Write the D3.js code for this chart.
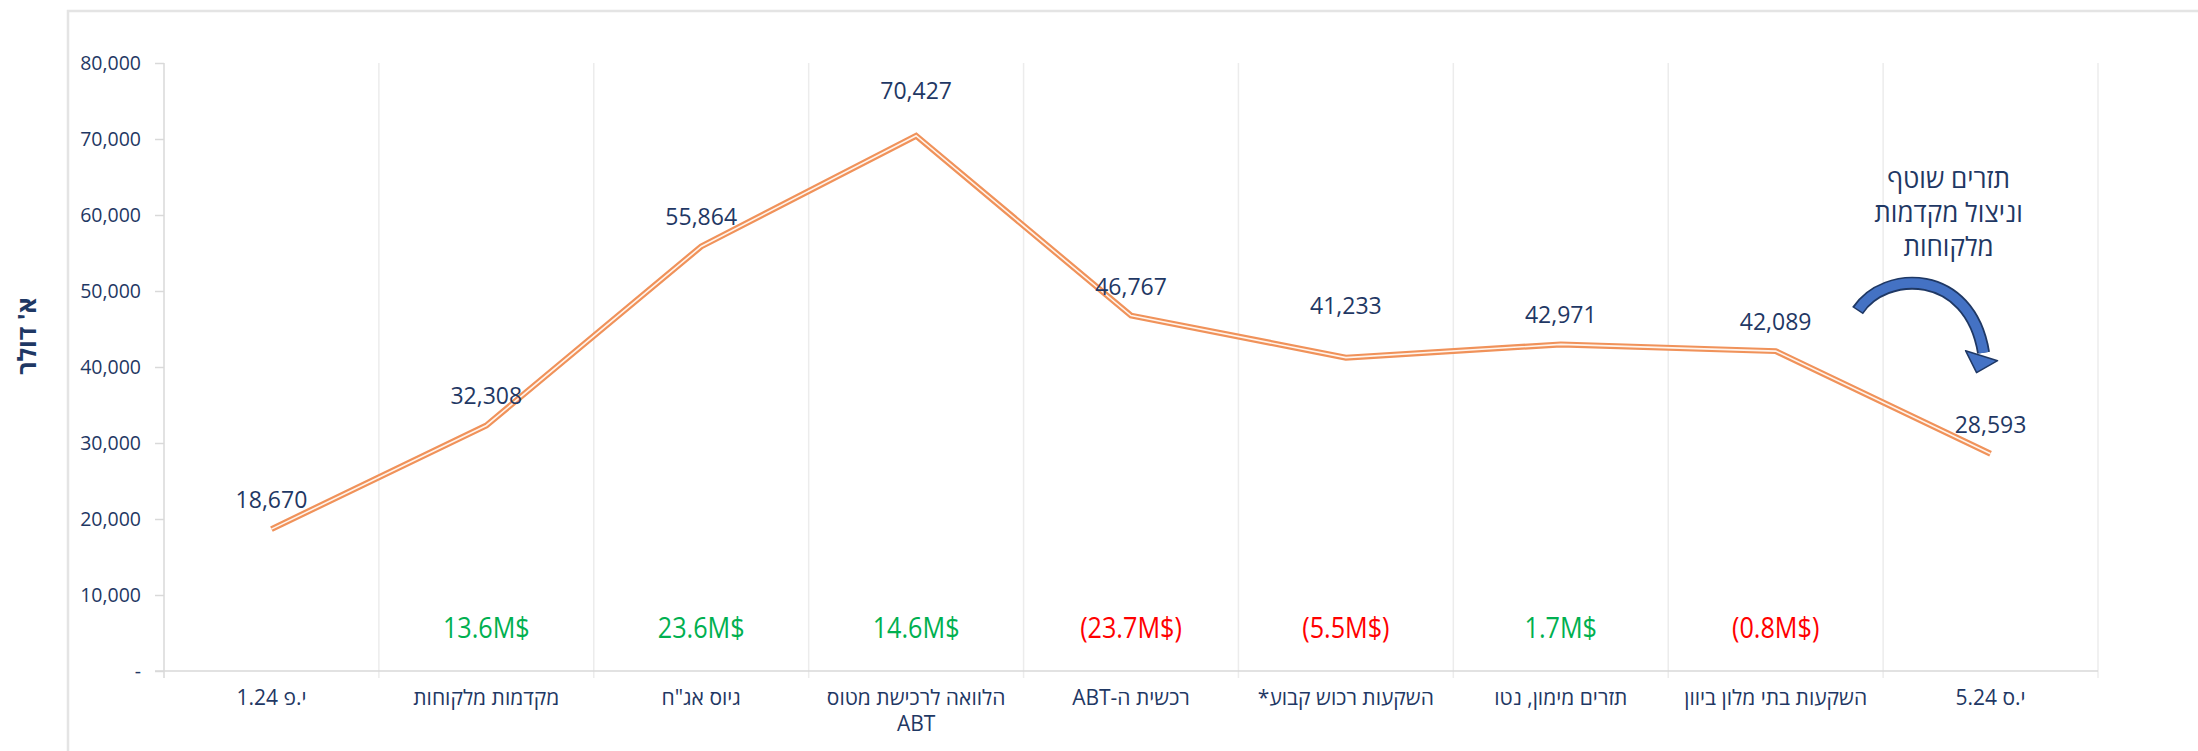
<!DOCTYPE html>
<html>
<head>
<meta charset="utf-8">
<script src="https://cdn.jsdelivr.net/npm/d3@7"></script>
<style>
  body { margin: 0; background: #fff; }
  text { font-family: "Open Sans", "Liberation Sans", "DejaVu Sans", sans-serif; }
</style>
</head>
<body>
<div id="chart"></div>
<script>
// data
var categories = ["י.פ 1.24", "מקדמות מלקוחות", "גיוס אג\"ח", "הלוואה לרכישת מטוס|ABT", "רכשית ה-ABT",
    "השקעות רכוש קבוע*", "תזרים מימון, נטו", "השקעות בתי מלון ביוון", "י.ס 5.24"];
var balances = [18670, 32308, 55864, 70427, 46767, 41233, 42971, 42089, 28593];
var changes = [null, 13.6, 23.6, 14.6, -23.7, -5.5, 1.7, -0.8, null];
var yTicks = [0, 10000, 20000, 30000, 40000, 50000, 60000, 70000, 80000];
var noteLines = ["תזרים שוטף", "וניצול מקדמות", "מלקוחות"];
var yTitle = "א' דולר";

// layout
var width = 2198,
    height = 751;
var plotLeft = 164, plotRight = 2098, plotTop = 63, plotBottom = 671;
var labelLift = [21, 21, 21, 37, 21, 44, 21, 21, 21];
var navy = "#1f3864";

var svg = d3.select("#chart").append("svg")
    .attr("width", width)
    .attr("height", height);

var x = d3.scaleBand()
    .domain(categories)
    .range([plotLeft, plotRight])
    .padding(0);

var y = d3.scaleLinear()
    .domain([0, 80000])
    .range([plotBottom, plotTop]);

function cx(i) { return x(categories[i]) + x.bandwidth() / 2; }

// outer frame
svg.append("path")
    .attr("d", "M68," + height + "V11H" + width)
    .attr("fill", "none")
    .attr("stroke", "#e4e4e4")
    .attr("stroke-width", 2.5);

// category separators
var edges = categories.map(function(c) { return x(c); }).concat([plotRight]);
svg.selectAll(".sep")
    .data(edges.slice(1))
    .enter().append("line")
    .attr("class", "sep")
    .attr("x1", function(d) { return d; })
    .attr("x2", function(d) { return d; })
    .attr("y1", plotTop)
    .attr("y2", plotBottom + 7)
    .attr("stroke", "#ececec")
    .attr("stroke-width", 1.5);

// y axis
var yAxis = d3.axisLeft(y)
    .tickValues(yTicks)
    .tickSize(9)
    .tickPadding(14)
    .tickFormat(function(d) { return d === 0 ? "-" : d3.format(",")(d); });

var gy = svg.append("g")
    .attr("transform", "translate(" + plotLeft + ",0)")
    .call(yAxis);
gy.select(".domain").attr("stroke", "#d9d9d9").attr("stroke-width", 1.5)
    .attr("d", "M0," + plotTop + "V" + (plotBottom + 7));
gy.selectAll(".tick line").attr("stroke", "#d9d9d9").attr("stroke-width", 1.5);
gy.selectAll(".tick text")
    .attr("fill", navy)
    .style("font-size", "19.5px")
    .style("font-family", "'Open Sans', sans-serif");

// x axis line
svg.append("line")
    .attr("x1", plotLeft - 9)
    .attr("x2", plotRight)
    .attr("y1", plotBottom)
    .attr("y2", plotBottom)
    .attr("stroke", "#d9d9d9")
    .attr("stroke-width", 1.5);

// x labels
var xl = svg.selectAll(".xlab")
    .data(categories)
    .enter().append("text")
    .attr("class", "xlab")
    .attr("direction", "rtl")
    .attr("text-anchor", "middle")
    .attr("fill", navy)
    .style("font-size", "21px")
    .attr("x", function(d, i) { return cx(i); })
    .attr("y", 705);
xl.each(function(d, i) {
    var parts = d.split("|");
    var t = d3.select(this);
    parts.forEach(function(p, j) {
        t.append("tspan")
            .attr("x", cx(i))
            .attr("dy", j === 0 ? 0 : 26)
            .text(p);
    });
});

// y title
svg.append("text")
    .attr("transform", "translate(36," + 336 + ") rotate(-90)")
    .attr("direction", "rtl")
    .attr("text-anchor", "middle")
    .attr("fill", navy)
    .style("font-size", "25px")
    .style("font-weight", "bold")
    .text(yTitle);

// line (double stroke)
var line = d3.line()
    .x(function(d, i) { return cx(i); })
    .y(function(d) { return y(d); });

svg.append("path")
    .datum(balances)
    .attr("d", line)
    .attr("fill", "none")
    .attr("stroke", "#f0925a")
    .attr("stroke-width", 6);
svg.append("path")
    .datum(balances)
    .attr("d", line)
    .attr("fill", "none")
    .attr("stroke", "#fff4ec")
    .attr("stroke-width", 1.6);

// value labels
svg.selectAll(".vlab")
    .data(balances)
    .enter().append("text")
    .attr("class", "vlab")
    .attr("text-anchor", "middle")
    .attr("fill", navy)
    .style("font-size", "23px")
    .attr("x", function(d, i) { return cx(i); })
    .attr("y", function(d, i) { return y(d) - labelLift[i]; })
    .text(function(d) { return d3.format(",")(d); });

// change labels
svg.selectAll(".clab")
    .data(changes)
    .enter().filter(function(d) { return d !== null; })
    .append("g")
    .attr("class", "clab")
    .attr("transform", function(d) {
        var i = changes.indexOf(d);
        return "translate(" + cx(i) + ",638) scale(0.84,1)";
    })
    .append("text")
    .attr("text-anchor", "middle")
    .attr("fill", function(d) { return d >= 0 ? "#00b050" : "#ff0000"; })
    .style("font-size", "30px")
    .text(function(d) {
        var s = Math.abs(d).toFixed(1) + "M$";
        return d >= 0 ? s : "(" + s + ")";
    });

// annotation
var last = balances.length - 1;
var ax = cx(last), ay = y(balances[last]);
svg.selectAll(".note")
    .data(noteLines)
    .enter().append("text")
    .attr("class", "note")
    .attr("direction", "rtl")
    .attr("text-anchor", "middle")
    .attr("fill", navy)
    .style("font-size", "26px")
    .attr("x", ax - 42)
    .attr("y", function(d, i) { return 188 + i * 34; })
    .text(function(d) { return d; });

// curved arrow
var arrow = svg.append("g")
    .attr("transform", "translate(" + (ax - 133) + "," + (ay - 143) + ")");
arrow.append("path")
    .attr("d", "M0,0 C27,-41 112,-43 126,42")
    .attr("fill", "none")
    .attr("stroke", "#1f3864")
    .attr("stroke-width", 13);
arrow.append("path")
    .attr("d", "M1,-1 C27,-41 112,-43 126,42")
    .attr("fill", "none")
    .attr("stroke", "#4472c4")
    .attr("stroke-width", 9.5);
arrow.append("path")
    .attr("d", "M108,40 L140,50 L119,62 Z")
    .attr("fill", "#4472c4")
    .attr("stroke", "#1f3864")
    .attr("stroke-width", 1.5)
    .attr("stroke-linejoin", "round");
</script>
</body>
</html>
